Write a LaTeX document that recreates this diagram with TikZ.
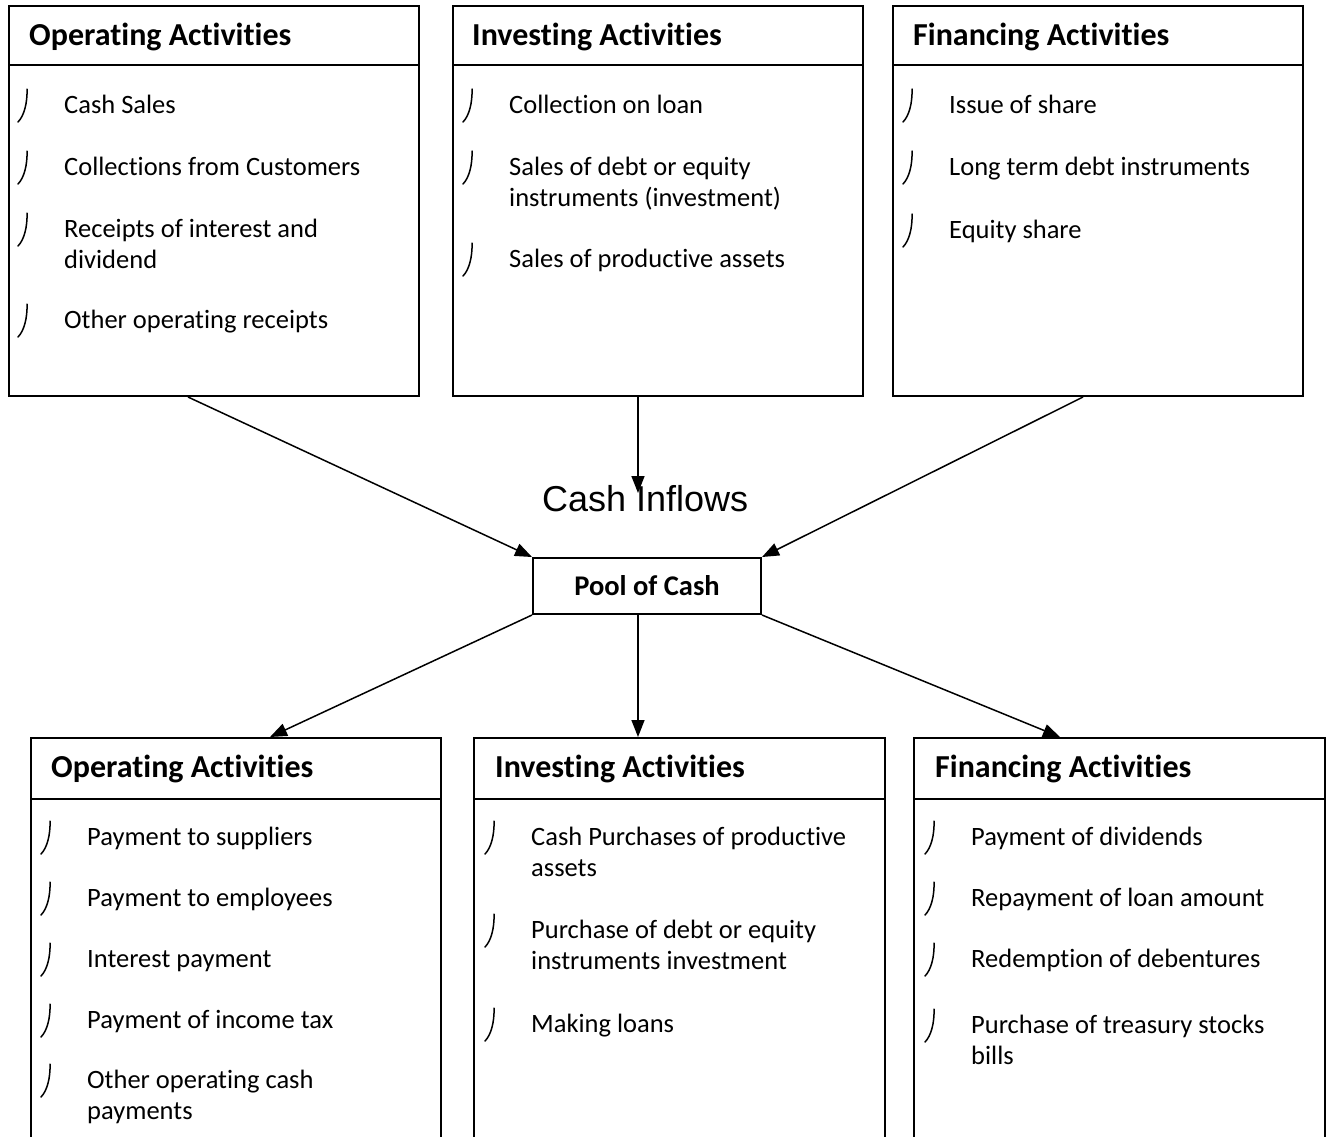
\documentclass[tikz,border=0pt]{standalone}
\usepackage{fontspec}
\setmainfont{Carlito}[Ligatures={NoCommon,NoRequired,NoContextual}]
\newfontfamily\arialfont{Liberation Sans}
\usetikzlibrary{arrows.meta,calc}
\tikzset{
  box/.style={draw=black,line width=2pt,rectangle,inner sep=0pt,anchor=north west,minimum width=410pt},
  topbox/.style={box,minimum height=390pt},
  botbox/.style={box,minimum height=420pt},
  divider/.style={line width=2pt},
  headtext/.style={anchor=base west,inner sep=0pt,font=\fontsize{32}{38}\selectfont\bfseries},
  itemtext/.style={anchor=base west,inner sep=0pt,font=\fontsize{26.5}{31.5}\selectfont},
  bulletline/.style={line width=1.5pt,line cap=round},
  flow/.style={line width=1.5pt,-{Triangle[length=17pt,width=13pt]}},
}
\newcommand\myitem[4]{%
  \node[itemtext] (#1) at (#2,#3) {\parbox[t]{360pt}{\raggedright #4}};
  \draw[bulletline] ($(#1.base west)+(-37,-24)$) .. controls +(0.5,14) and +(6,-6) .. ($(#1.base west)+(-46,9)$);
}
\begin{document}
\begin{tikzpicture}[x=1pt,y=-1pt]
\useasboundingbox (0,0) rectangle (1329,1136);
\clip (0,0) rectangle (1329,1136);
% top boxes
\node[topbox] (tl1) at (8,5) {};
\node[topbox] (tl2) at (452,5) {};
\node[topbox] (tl3) at (892,5) {};
\draw[divider] ($(tl1.north west)+(0,60)$) -- ($(tl1.north east)+(0,60)$);
\draw[divider] ($(tl2.north west)+(0,60)$) -- ($(tl2.north east)+(0,60)$);
\draw[divider] ($(tl3.north west)+(0,60)$) -- ($(tl3.north east)+(0,60)$);
\node[headtext] (h1) at (29,45) {Operating Activities};
\node[headtext] (h2) at (472,45) {Investing Activities};
\node[headtext] (h3) at (913,45) {Financing Activities};
\myitem{a1}{64}{113}{Cash Sales}
\myitem{a2}{64}{175}{Collections from Customers}
\myitem{a3}{64}{237}{Receipts of interest and\\dividend}
\myitem{a4}{64}{328}{Other operating receipts}
\myitem{b1}{509}{113}{Collection on loan}
\myitem{b2}{509}{175}{Sales of debt or equity\\instruments (investment)}
\myitem{b3}{509}{267}{Sales of productive assets}
\myitem{c1}{949}{113}{Issue of share}
\myitem{c2}{949}{175}{Long term debt instruments}
\myitem{c3}{949}{238}{Equity share}
% pool
\node[draw=black,line width=2pt,rectangle,inner sep=0pt,anchor=north west,minimum width=228pt,minimum height=56pt,font=\fontsize{28.5}{32}\selectfont\bfseries] (pool) at (532,557) {Pool of Cash};
% cash inflows label
\node[anchor=base west,inner sep=0pt,font=\arialfont\fontsize{36}{40}\selectfont] (inflows) at (542,511) {Cash Inflows};
\coordinate (inflowtip) at (638,493);
% bottom boxes
\node[botbox] (bl1) at (30,737) {};
\node[botbox,minimum width=411pt] (bl2) at (473,737) {};
\node[botbox,minimum width=411pt] (bl3) at (913,737) {};
\draw[divider] ($(bl1.north west)+(0,62)$) -- ($(bl1.north east)+(0,62)$);
\draw[divider] ($(bl2.north west)+(0,62)$) -- ($(bl2.north east)+(0,62)$);
\draw[divider] ($(bl3.north west)+(0,62)$) -- ($(bl3.north east)+(0,62)$);
\node[headtext] (h4) at (51,777) {Operating Activities};
\node[headtext] (h5) at (495,777) {Investing Activities};
\node[headtext] (h6) at (935,777) {Financing Activities};
\myitem{d1}{87}{845}{Payment to suppliers}
\myitem{d2}{87}{906}{Payment to employees}
\myitem{d3}{87}{967}{Interest payment}
\myitem{d4}{87}{1028}{Payment of income tax}
\myitem{d5}{87}{1088}{Other operating cash\\payments}
\myitem{e1}{531}{845}{Cash Purchases of productive\\assets}
\myitem{e2}{531}{938}{Purchase of debt or equity\\instruments investment}
\myitem{e3}{531}{1032}{Making loans}
\myitem{f1}{971}{845}{Payment of dividends}
\myitem{f2}{971}{906}{Repayment of loan amount}
\myitem{f3}{971}{967}{Redemption of debentures}
\myitem{f4}{971}{1033}{Purchase of treasury stocks\\bills}
% arrows in
\draw[flow] ($(tl1.south west)+(180,0)$) -- (pool.north west);
\draw[flow] ($(tl2.south west)+(186,0)$) -- (inflowtip);
\draw[flow] ($(tl3.south west)+(191,0)$) -- (pool.north east);
% arrows out
\draw[flow] (pool.south west) -- ($(bl1.north west)+(240,0)$);
\draw[flow] ($(pool.south west)+(106,0)$) -- ($(bl2.north west)+(165,0)$);
\draw[flow] (pool.south east) -- ($(bl3.north west)+(147,0)$);
\end{tikzpicture}
\end{document}
